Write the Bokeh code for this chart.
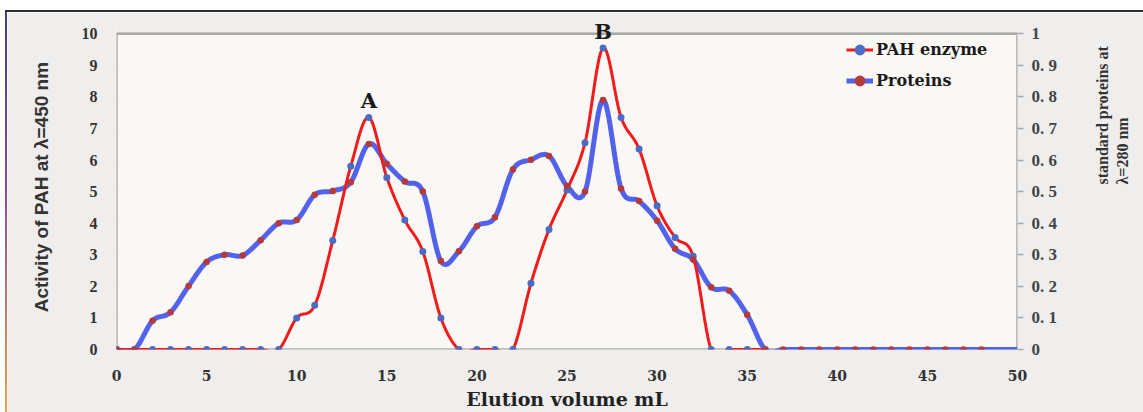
import numpy as np
from bokeh.plotting import figure
from bokeh.models import (Range1d, LinearAxis, FixedTicker, CustomJSTickFormatter,
                          Legend, LegendItem, Label, Spacer)
from bokeh.layouts import column, row
from bokeh.embed import file_html
from bokeh.resources import INLINE

# ---- data -------------------------------------------------------------
# PAH enzyme activity (A450) per elution fraction
pah_volume = list(range(0, 37))
pah_activity = [0, 0, 0, 0, 0, 0, 0, 0, 0, 0,
                1.0, 1.4, 3.45, 5.8, 7.35, 5.45, 4.1, 3.1, 1.0, 0,
                0, 0, 0, 2.1, 3.8, 5.05, 6.55, 9.55, 7.35, 6.35,
                4.55, 3.55, 2.95, 0, 0, 0, 0]

# standard proteins absorbance (A280) per elution fraction
protein_volume = list(range(0, 51))
protein_abs = [0, 0, 0.091, 0.118, 0.201, 0.277, 0.300, 0.298, 0.346, 0.400,
               0.410, 0.490, 0.502, 0.530, 0.651, 0.588, 0.532, 0.500, 0.280, 0.311,
               0.390, 0.419, 0.570, 0.601, 0.613, 0.518, 0.500, 0.790, 0.510, 0.470,
               0.408, 0.319, 0.285, 0.197, 0.186, 0.110, 0, 0, 0, 0,
               0, 0, 0, 0, 0, 0, 0, 0, 0, 0, 0]
protein_marker_count = 49          # markers drawn for fractions 0..48

peak_names = ["A", "B"]
peak_volumes = [14, 27]

x_ticks = list(range(0, 51, 5))
left_ticks = list(range(0, 11))
right_ticks = [0, 0.1, 0.2, 0.3, 0.4, 0.5, 0.6, 0.7, 0.8, 0.9, 1.0]

series_names = ["PAH enzyme", "Proteins"]
x_title = "Elution volume mL"
left_title = "Activity of  PAH at \u03bb=450 nm"
right_title = ["standard proteins at", "\u03bb=280 nm"]

X_MAX = 50
Y_MAX = 10          # plot area top (left scale)
HEADROOM = 0.45     # room above the plot area for the peak letters


def smooth(xs, ys, steps=16):
    """Cubic Bezier smoothing through every point (Catmull-Rom style)."""
    xs = np.asarray(xs, float)
    ys = np.asarray(ys, float)
    n = len(xs)
    out_x, out_y = [], []
    t = np.linspace(0, 1, steps, endpoint=False)
    for i in range(n - 1):
        i0, i1, i2, i3 = max(i - 1, 0), i, i + 1, min(i + 2, n - 1)
        p0 = np.array([xs[i1], ys[i1]])
        p3 = np.array([xs[i2], ys[i2]])
        c1 = p0 + (np.array([xs[i2], ys[i2]]) - np.array([xs[i0], ys[i0]])) / 6
        c2 = p3 - (np.array([xs[i3], ys[i3]]) - np.array([xs[i1], ys[i1]])) / 6
        b = ((1 - t) ** 3)[:, None] * p0 + (3 * (1 - t) ** 2 * t)[:, None] * c1 \
            + (3 * (1 - t) * t ** 2)[:, None] * c2 + (t ** 3)[:, None] * p3
        out_x.extend(b[:, 0])
        out_y.extend(b[:, 1])
    out_x.append(xs[-1])
    out_y.append(ys[-1])
    return out_x, out_y


RED = "#f21b1b"
BLUE = "#5262ec"
RED_DOT = "#b53a3c"
BLUE_DOT = "#4a6cc4"
GRID = "#bcbcbc"
FRAME = "#a9a9a9"
OUTER = "#efeeec"
SERIF = "DejaVu Serif"

p = figure(width=1136, height=400, x_range=Range1d(0, X_MAX),
           y_range=Range1d(0, Y_MAX + HEADROOM),
           output_backend="svg", toolbar_location=None,
           min_border_left=109, min_border_right=126,
           min_border_top=7, min_border_bottom=60)
p.extra_y_ranges = {"right": Range1d(0, (Y_MAX + HEADROOM) / Y_MAX)}

p.background_fill_color = OUTER
p.border_fill_color = OUTER
p.outline_line_color = None

# plot area panel
p.quad(left=0, right=X_MAX, bottom=0, top=Y_MAX, fill_color="#faf8f4",
       line_color=FRAME, line_width=2.5)

p.xgrid.visible = False
p.ygrid.ticker = FixedTicker(ticks=left_ticks)
p.ygrid.grid_line_color = GRID
p.ygrid.grid_line_width = 1.5

# bottom axis
xa = p.xaxis[0]
xa.ticker = FixedTicker(ticks=x_ticks)
xa.axis_line_color = None
xa.major_tick_line_color = None
xa.minor_tick_line_color = None
xa.major_label_standoff = 14
xa.major_label_text_font = SERIF
xa.major_label_text_font_style = "bold"
xa.major_label_text_font_size = "14px"
xa.major_label_text_color = "#333333"
xa.axis_label = x_title
xa.axis_label_text_font = SERIF
xa.axis_label_text_font_style = "bold"
xa.axis_label_text_font_size = "19px"
xa.axis_label_text_color = "#222222"
xa.axis_label_standoff = 4

# left axis
ya = p.yaxis[0]
ya.ticker = FixedTicker(ticks=left_ticks)
ya.axis_line_color = None
ya.major_tick_line_color = None
ya.minor_tick_line_color = None
ya.major_label_standoff = 13
ya.major_label_text_font = "Liberation Serif"
ya.major_label_text_font_style = "bold"
ya.major_label_text_font_size = "16px"
ya.major_label_text_color = "#333333"
ya.axis_label = left_title
ya.axis_label_standoff = 27
ya.axis_label_text_font = "Liberation Sans"
ya.axis_label_text_font_style = "bold"
ya.axis_label_text_font_size = "19px"
ya.axis_label_text_color = "#333333"


def style_right_title(axis, text, standoff):
    axis.axis_label = text
    axis.axis_label_orientation = np.pi / 2
    axis.axis_label_standoff = standoff
    axis.axis_label_text_font = "Liberation Serif"
    axis.axis_label_text_font_style = "bold"
    axis.axis_label_text_font_size = "16px"
    axis.axis_label_text_color = "#333333"


# right axis (ticks + first title line)
ra = LinearAxis(y_range_name="right")
ra.ticker = FixedTicker(ticks=right_ticks)
ra.formatter = CustomJSTickFormatter(code="""
    const v = Math.round(tick * 10);
    if (v == 0) { return "0"; }
    if (v == 10) { return "1"; }
    return "0. " + v;
""")
ra.axis_line_color = None
ra.major_tick_in = 0
ra.major_tick_out = 6
ra.major_tick_line_color = FRAME
ra.major_tick_line_width = 1.5
ra.minor_tick_line_color = None
ra.major_label_standoff = 8
ra.major_label_text_font = "Liberation Serif"
ra.major_label_text_font_style = "bold"
ra.major_label_text_font_size = "17px"
ra.major_label_text_color = "#444444"
style_right_title(ra, right_title[0], 42)
p.add_layout(ra, "right")

# second title line on a bare outer axis
ra2 = LinearAxis(y_range_name="right", ticker=FixedTicker(ticks=[]))
ra2.axis_line_color = None
ra2.major_tick_in = 0
ra2.major_tick_out = 0
ra2.major_tick_line_color = None
ra2.minor_tick_line_color = None
ra2.major_label_standoff = 0
style_right_title(ra2, right_title[1], 0)
p.add_layout(ra2, "right")

# curves
px, py = smooth(pah_volume, pah_activity)
qx, qy = smooth(protein_volume, protein_abs)

prot_line = p.line(qx, qy, y_range_name="right", line_color=BLUE, line_width=5)
pah_line = p.line(px, py, line_color=RED, line_width=3)
pah_dots = p.scatter(pah_volume, pah_activity, size=7, marker="circle",
                     fill_color=BLUE_DOT, line_color=None)
prot_dots = p.scatter(protein_volume[:protein_marker_count],
                      protein_abs[:protein_marker_count], y_range_name="right",
                      size=6.5, marker="circle", fill_color=RED_DOT, line_color=None)

legend = Legend(items=[LegendItem(label=series_names[0], renderers=[pah_line, pah_dots]),
                       LegendItem(label=series_names[1], renderers=[prot_line, prot_dots])],
                location=(730, 253), orientation="vertical",
                glyph_width=27, glyph_height=31, label_height=31, spacing=0,
                padding=0, margin=0, label_standoff=3,
                label_text_font=SERIF, label_text_font_style="bold",
                label_text_font_size="16px", label_text_color="#1a1a1a",
                border_line_alpha=0, background_fill_alpha=0)
p.add_layout(legend)

# peak letters
for name, vol in zip(peak_names, peak_volumes):
    top = pah_activity[pah_volume.index(vol)]
    p.add_layout(Label(x=vol, y=top, text=name, y_offset=4, text_align="center",
                       text_baseline="bottom", text_font=SERIF,
                       text_font_style="bold", text_font_size="21px",
                       text_color="#1a1a1a"))

# outer picture frame
top_strip = Spacer(width=1143, height=12, styles={
    "background": "linear-gradient(to right, #ffffff 0 5px, transparent 5px), "
                  "linear-gradient(to bottom, #ffffff 0 10px, #2e2e2e 10px 12px)"})
left_edge = Spacer(width=7, height=400, styles={
    "background": "linear-gradient(to right, #ffffff 0 5px, transparent 5px), "
                  "linear-gradient(to bottom, #3b3f8e, #8a4c9c 45%, #f2a240)"})
layout = column(top_strip, row(left_edge, p), spacing=0)

open("out.html", "w").write(file_html(layout, INLINE))
